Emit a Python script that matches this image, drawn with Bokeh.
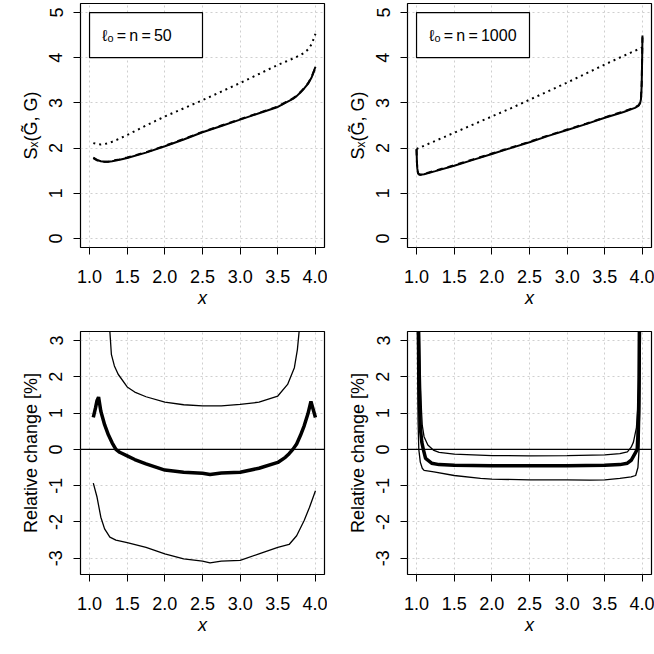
from bokeh.plotting import figure
from bokeh.layouts import gridplot
from bokeh.models import FixedTicker, NumeralTickFormatter, Range1d, Span, BoxAnnotation, Label
from bokeh.embed import file_html
from bokeh.resources import INLINE

# ---------------- data ----------------
X_TICKS = [1.0, 1.5, 2.0, 2.5, 3.0, 3.5, 4.0]
Y_TICKS_TOP = [0, 1, 2, 3, 4, 5]
Y_TICKS_BOT = [-3, -2, -1, 0, 1, 2, 3]

LABEL_50 = "ℓₒ\u2009=\u2009n\u2009=\u200950"
LABEL_1000 = "ℓₒ\u2009=\u2009n\u2009=\u20091000"

# top-left: n = 50
x50 = [1.05, 1.1, 1.15, 1.2, 1.25, 1.3, 1.4, 1.5, 1.75, 2.0, 2.25, 2.5, 2.75, 3.0,
       3.25, 3.5, 3.6, 3.7, 3.75, 3.8, 3.85, 3.9, 3.95, 4.0]
solid50 = [1.79, 1.74, 1.71, 1.70, 1.70, 1.71, 1.74, 1.78, 1.90, 2.04, 2.19, 2.35, 2.49, 2.63,
           2.77, 2.91, 3.00, 3.09, 3.15, 3.23, 3.32, 3.42, 3.57, 3.80]
dashed50 = [1.78, 1.73, 1.70, 1.70, 1.70, 1.72, 1.75, 1.79, 1.91, 2.05, 2.20, 2.36, 2.50, 2.64,
            2.78, 2.92, 3.01, 3.10, 3.16, 3.24, 3.33, 3.43, 3.58, 3.78]
dotted50 = [2.11, 2.09, 2.08, 2.09, 2.11, 2.14, 2.21, 2.29, 2.50, 2.70, 2.88, 3.06, 3.25, 3.44,
            3.64, 3.84, 3.91, 3.98, 4.02, 4.06, 4.11, 4.18, 4.30, 4.53]

# top-right: n = 1000
x1000 = [1.0, 1.005, 1.01, 1.02, 1.03, 1.05, 1.1, 1.25, 1.5, 1.75, 2.0, 2.25, 2.5, 2.75, 3.0,
         3.25, 3.5, 3.75, 3.9, 3.95, 3.97, 3.98, 3.99, 3.995, 4.0]
solid1000 = [1.98, 1.70, 1.55, 1.45, 1.42, 1.41, 1.42, 1.49, 1.61, 1.74, 1.87, 2.00, 2.13, 2.27, 2.40,
             2.53, 2.67, 2.80, 2.89, 2.94, 3.00, 3.08, 3.40, 3.90, 4.49]
dashed1000 = [1.97, 1.69, 1.54, 1.45, 1.42, 1.41, 1.43, 1.50, 1.62, 1.75, 1.88, 2.01, 2.14, 2.28, 2.41,
              2.54, 2.68, 2.81, 2.90, 2.95, 3.01, 3.10, 3.45, 3.95, 4.45]
xdot1000 = [1.0, 1.25, 1.5, 1.75, 2.0, 2.25, 2.5, 2.75, 3.0, 3.25, 3.5, 3.75, 4.0]
dotted1000 = [1.98, 2.16, 2.34, 2.52, 2.70, 2.88, 3.07, 3.26, 3.45, 3.65, 3.85, 4.04, 4.23]

# bottom-left: relative change, n = 50
xmean50 = [1.05, 1.08, 1.1, 1.12, 1.15, 1.2, 1.25, 1.3, 1.35, 1.4, 1.5, 1.6, 1.75, 2.0, 2.25,
           2.5, 2.6, 2.75, 3.0, 3.25, 3.5, 3.6, 3.65, 3.7, 3.75, 3.8, 3.85, 3.9, 3.94, 3.97, 4.0]
mean50 = [0.88, 1.15, 1.35, 1.44, 1.05, 0.68, 0.40, 0.18, 0.0, -0.08, -0.18, -0.28, -0.40, -0.57, -0.63,
          -0.66, -0.69, -0.65, -0.63, -0.52, -0.36, -0.22, -0.12, 0.0, 0.15, 0.38, 0.65, 0.98, 1.32, 1.10, 0.88]
xup50 = [1.25, 1.27, 1.29, 1.33, 1.38, 1.5, 1.6, 1.75, 2.0, 2.25, 2.5, 2.75, 3.0, 3.25, 3.5,
         3.63, 3.72, 3.76, 3.79, 3.82]
upper50 = [3.8, 3.25, 2.62, 2.30, 2.07, 1.72, 1.58, 1.45, 1.30, 1.23, 1.20, 1.20, 1.24, 1.30, 1.47,
           1.79, 2.25, 2.75, 3.40, 3.9]
xlo50 = [1.05, 1.1, 1.15, 1.2, 1.27, 1.35, 1.5, 1.75, 2.0, 2.25, 2.5, 2.6, 2.75, 3.0, 3.25,
         3.5, 3.65, 3.75, 3.85, 3.92, 4.0]
lower50 = [-0.93, -1.32, -1.87, -2.19, -2.42, -2.50, -2.57, -2.70, -2.88, -3.02, -3.08, -3.13, -3.08,
           -3.06, -2.88, -2.70, -2.62, -2.38, -1.96, -1.60, -1.14]

# bottom-right: relative change, n = 1000
xmean1000 = [1.025, 1.03, 1.035, 1.04, 1.05, 1.07, 1.09, 1.12, 1.2, 1.3, 1.5, 2.0, 2.5, 3.0, 3.5,
             3.7, 3.8, 3.85, 3.9, 3.93, 3.94, 3.95, 3.955, 3.96]
mean1000 = [3.6, 2.6, 1.8, 1.2, 0.6, 0.2, 0.0, -0.25, -0.38, -0.42, -0.44, -0.45, -0.45, -0.45, -0.44,
            -0.42, -0.38, -0.30, -0.12, 0.0, 0.4, 1.2, 2.0, 3.6]
xup1000 = [1.035, 1.045, 1.055, 1.065, 1.076, 1.1, 1.15, 1.23, 1.3, 1.5, 2.0, 2.5, 3.0, 3.5,
           3.7, 3.8, 3.85, 3.88, 3.92, 3.94, 3.955, 3.965, 3.97]
upper1000 = [3.6, 2.6, 1.7, 1.1, 0.66, 0.35, 0.12, -0.03, -0.08, -0.13, -0.17, -0.18, -0.17, -0.15,
             -0.12, -0.07, 0.06, 0.20, 0.60, 1.20, 2.0, 3.0, 3.6]
xlo1000 = [1.01, 1.015, 1.02, 1.03, 1.05, 1.076, 1.1, 1.23, 1.5, 1.85, 2.0, 2.5, 3.0, 3.3, 3.5,
           3.7, 3.85, 3.91, 3.94, 3.955, 3.965, 3.975]
lower1000 = [3.6, 2.0, 0.8, 0.0, -0.35, -0.52, -0.58, -0.62, -0.72, -0.80, -0.82, -0.84, -0.84, -0.85,
             -0.84, -0.80, -0.76, -0.72, -0.50, 0.0, 1.0, 3.6]

# ---------------- styling ----------------
FONT = "Liberation Sans"
FS = "18px"
FS_LEGEND = "16px"
XR = (0.88, 4.12)
YR_TOP = (-0.2, 5.2)
YR_BOT = (-3.448, 3.248)


def make_fig(yr, yticks, ylabel, bl, br, bt, bb):
    p = figure(width=327, height=327, output_backend="svg", toolbar_location=None,
               x_range=Range1d(*XR), y_range=Range1d(*yr),
               min_border_left=bl, min_border_right=br, min_border_top=bt, min_border_bottom=bb)
    p.outline_line_color = "black"
    p.outline_line_width = 1.2
    p.background_fill_color = "white"
    p.border_fill_color = "white"
    for ax in (p.xaxis[0], p.yaxis[0]):
        ax.axis_line_color = None
        ax.major_tick_line_color = "black"
        ax.major_tick_line_width = 1
        ax.major_tick_out = 7
        ax.major_tick_in = 0
        ax.minor_tick_line_color = None
        ax.major_label_text_font = FONT
        ax.major_label_text_font_size = FS
        ax.major_label_text_color = "black"
        ax.axis_label_text_font = FONT
        ax.axis_label_text_font_size = FS
        ax.axis_label_text_color = "black"
    p.xaxis.ticker = FixedTicker(ticks=X_TICKS)
    p.xaxis.formatter = NumeralTickFormatter(format="0.0")
    p.xaxis.major_label_standoff = 15
    p.xaxis.axis_label = "x"
    p.xaxis.axis_label_text_font_style = "italic"
    p.xaxis.axis_label_standoff = 2
    p.yaxis.ticker = FixedTicker(ticks=yticks)
    p.yaxis.formatter = NumeralTickFormatter(format="0")
    p.yaxis.major_label_orientation = "vertical"
    p.yaxis.major_label_standoff = 11
    p.yaxis.axis_label = ylabel
    p.yaxis.axis_label_text_font_style = "normal"
    p.yaxis.axis_label_standoff = 6
    for g in (p.xgrid[0], p.ygrid[0]):
        g.grid_line_color = "#cfcfcf"
        g.grid_line_dash = "2 3"
        g.grid_line_width = 1
    return p


def add_legend(p, text):
    p.add_layout(BoxAnnotation(left=1.0, right=2.5, bottom=4.0, top=5.0,
                               fill_color="white", fill_alpha=1.0,
                               line_color="black", line_width=1.2, line_alpha=1.0))
    p.add_layout(Label(x=1.17, y=4.5, text=text, text_font=FONT, text_font_size=FS_LEGEND,
                       text_baseline="middle", text_align="left", text_color="black"))


SX_LABEL = "Sₓ(G\u0303, G)"
REL_LABEL = "Relative change [%]"

p1 = make_fig(YR_TOP, Y_TICKS_TOP, SX_LABEL, 80, 3, 3, 80)
p1.line(x50, dotted50, line_color="black", line_width=2, line_dash="2 4")
p1.line(x50, dashed50, line_color="black", line_width=2, line_dash="6 5")
p1.line(x50, solid50, line_color="black", line_width=2)
add_legend(p1, LABEL_50)

p2 = make_fig(YR_TOP, Y_TICKS_TOP, SX_LABEL, 80, 3, 3, 80)
p2.line(xdot1000, dotted1000, line_color="black", line_width=2, line_dash="2 4")
p2.line(x1000, dashed1000, line_color="black", line_width=2, line_dash="6 5")
p2.line(x1000, solid1000, line_color="black", line_width=2)
add_legend(p2, LABEL_1000)

p3 = make_fig(YR_BOT, Y_TICKS_BOT, REL_LABEL, 80, 3, 4, 80)
p3.add_layout(Span(location=0, dimension="width", line_color="black", line_width=1.3))
p3.line(xup50, upper50, line_color="black", line_width=1.3)
p3.line(xlo50, lower50, line_color="black", line_width=1.3)
p3.line(xmean50, mean50, line_color="black", line_width=3.5)

p4 = make_fig(YR_BOT, Y_TICKS_BOT, REL_LABEL, 80, 3, 4, 80)
p4.add_layout(Span(location=0, dimension="width", line_color="black", line_width=1.3))
p4.line(xup1000, upper1000, line_color="black", line_width=1.3)
p4.line(xlo1000, lower1000, line_color="black", line_width=1.3)
p4.line(xmean1000, mean1000, line_color="black", line_width=3.5)

grid = gridplot([[p1, p2], [p3, p4]], toolbar_location=None)

open("out.html", "w").write(file_html(grid, INLINE))
